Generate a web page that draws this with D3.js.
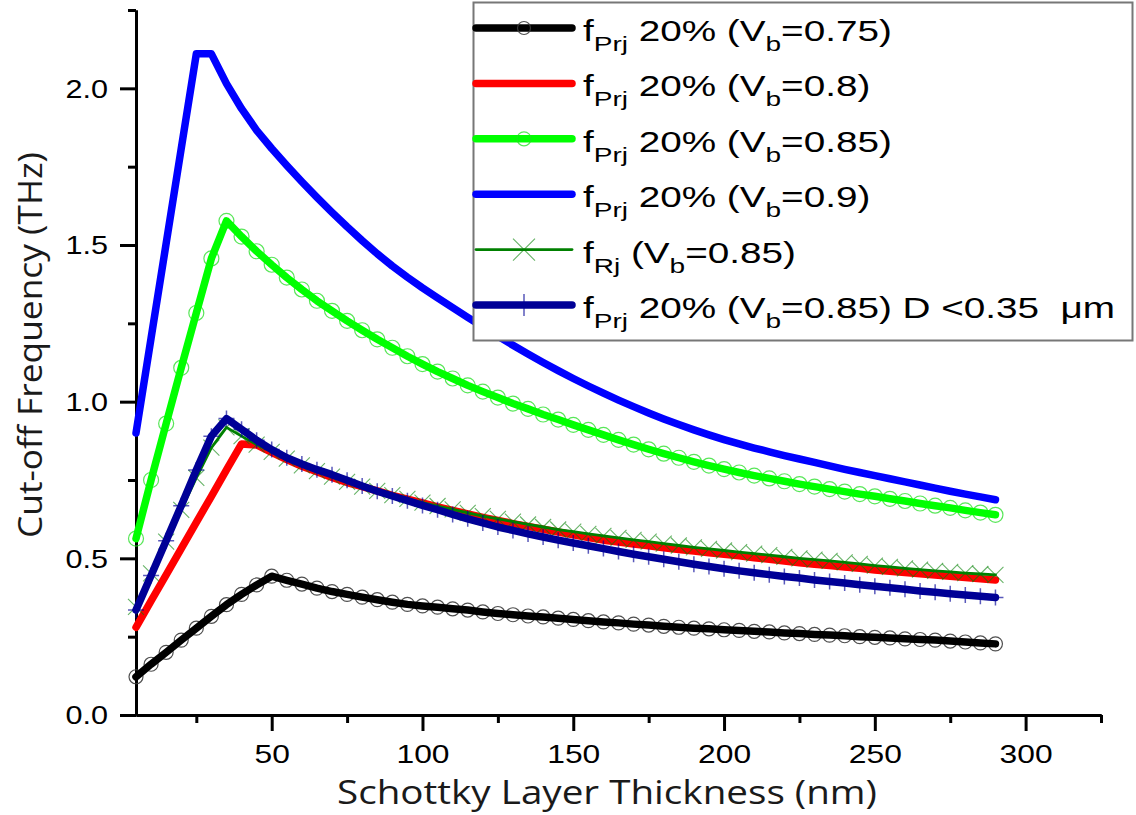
<!DOCTYPE html>
<html>
<head>
<meta charset="utf-8">
<script src="https://cdn.jsdelivr.net/npm/d3@7"></script>
<style>
  body { margin: 0; background: #fff; }
  svg { display: block; }
</style>
</head>
<body>
<div id="chart"></div>
<script>
// Schottky layer thickness (nm)
var thickness = [5, 10, 15, 20, 25, 30, 35, 40, 45, 50,
  55, 60, 65, 70, 75, 80, 85, 90, 95, 100,
  105, 110, 115, 120, 125, 130, 135, 140, 145, 150,
  155, 160, 165, 170, 175, 180, 185, 190, 195, 200,
  205, 210, 215, 220, 225, 230, 235, 240, 245, 250,
  255, 260, 265, 270, 275, 280, 285, 290];

// Cut-off frequency (THz)
var fPrj075 = [0.122, 0.162, 0.200, 0.239, 0.277, 0.315, 0.352, 0.385, 0.415, 0.443,
  0.430, 0.418, 0.405, 0.394, 0.385, 0.376, 0.368, 0.360, 0.353, 0.348,
  0.344, 0.339, 0.335, 0.329, 0.324, 0.320, 0.316, 0.313, 0.309, 0.305,
  0.301, 0.297, 0.294, 0.290, 0.287, 0.283, 0.280, 0.277, 0.275, 0.272,
  0.270, 0.267, 0.265, 0.262, 0.260, 0.257, 0.255, 0.253, 0.250, 0.248,
  0.246, 0.243, 0.241, 0.239, 0.236, 0.233, 0.230, 0.227];

var fPrj080 = [0.280, 0.364, 0.447, 0.531, 0.615, 0.698, 0.782, 0.865, 0.862, 0.838,
  0.815, 0.794, 0.776, 0.758, 0.742, 0.729, 0.715, 0.701, 0.689, 0.677,
  0.664, 0.653, 0.642, 0.631, 0.621, 0.611, 0.602, 0.593, 0.584, 0.575,
  0.566, 0.558, 0.552, 0.546, 0.540, 0.534, 0.528, 0.523, 0.518, 0.513,
  0.508, 0.502, 0.497, 0.491, 0.486, 0.481, 0.477, 0.472, 0.468, 0.463,
  0.459, 0.455, 0.451, 0.447, 0.443, 0.439, 0.435, 0.431];

var fPrj085 = [0.563, 0.750, 0.930, 1.108, 1.283, 1.457, 1.577, 1.527, 1.480, 1.437,
  1.396, 1.358, 1.322, 1.290, 1.258, 1.228, 1.199, 1.172, 1.145, 1.120,
  1.096, 1.074, 1.052, 1.032, 1.013, 0.994, 0.977, 0.959, 0.943, 0.926,
  0.910, 0.894, 0.878, 0.863, 0.848, 0.834, 0.821, 0.808, 0.796, 0.785,
  0.774, 0.764, 0.755, 0.746, 0.737, 0.729, 0.721, 0.713, 0.705, 0.698,
  0.690, 0.683, 0.675, 0.668, 0.661, 0.653, 0.646, 0.639];

var fPrj090 = [0.900, 1.203, 1.505, 1.808, 2.110, 2.110, 2.015, 1.935, 1.866, 1.808,
  1.754, 1.702, 1.652, 1.604, 1.558, 1.514, 1.472, 1.433, 1.397, 1.363,
  1.331, 1.300, 1.269, 1.239, 1.209, 1.180, 1.152, 1.125, 1.099, 1.074,
  1.050, 1.027, 1.005, 0.984, 0.964, 0.945, 0.927, 0.910, 0.894, 0.879,
  0.865, 0.852, 0.840, 0.828, 0.817, 0.806, 0.795, 0.784, 0.774, 0.764,
  0.754, 0.744, 0.734, 0.724, 0.714, 0.705, 0.696, 0.687];

var fRj085 = [0.345, 0.452, 0.553, 0.655, 0.757, 0.853, 0.918, 0.890, 0.863, 0.840,
  0.818, 0.797, 0.778, 0.761, 0.744, 0.729, 0.715, 0.702, 0.690, 0.678,
  0.667, 0.656, 0.645, 0.635, 0.626, 0.617, 0.608, 0.600, 0.592, 0.585,
  0.578, 0.572, 0.565, 0.559, 0.553, 0.547, 0.541, 0.535, 0.530, 0.525,
  0.520, 0.515, 0.510, 0.505, 0.500, 0.496, 0.492, 0.487, 0.482, 0.477,
  0.473, 0.468, 0.464, 0.460, 0.457, 0.453, 0.450, 0.447];

var fPrj085D = [0.335, 0.445, 0.556, 0.668, 0.782, 0.890, 0.946, 0.912, 0.877, 0.847,
  0.821, 0.801, 0.783, 0.767, 0.749, 0.731, 0.714, 0.699, 0.684, 0.669,
  0.655, 0.640, 0.626, 0.613, 0.600, 0.589, 0.578, 0.568, 0.558, 0.549,
  0.540, 0.531, 0.522, 0.513, 0.505, 0.497, 0.489, 0.481, 0.474, 0.467,
  0.460, 0.454, 0.448, 0.442, 0.437, 0.431, 0.426, 0.421, 0.416, 0.411,
  0.406, 0.401, 0.396, 0.392, 0.387, 0.383, 0.379, 0.375];

// Axis ticks
var xMajorTicks = [50, 100, 150, 200, 250, 300];
var xMinorTicks = [25, 75, 125, 175, 225, 275, 325];
var yMajorTicks = [0, 0.5, 1.0, 1.5, 2.0];
var yMinorTicks = [0.25, 0.75, 1.25, 1.75, 2.25];

// Legend text pieces: [text, subscript?]
var legendLabels = [
  [["f", 0], ["Prj", 1], [" 20% (V", 0], ["b", 1], ["=0.75)", 0]],
  [["f", 0], ["Prj", 1], [" 20% (V", 0], ["b", 1], ["=0.8)", 0]],
  [["f", 0], ["Prj", 1], [" 20% (V", 0], ["b", 1], ["=0.85)", 0]],
  [["f", 0], ["Prj", 1], [" 20% (V", 0], ["b", 1], ["=0.9)", 0]],
  [["f", 0], ["Rj", 1], [" (V", 0], ["b", 1], ["=0.85)", 0]],
  [["f", 0], ["Prj", 1], [" 20% (V", 0], ["b", 1], ["=0.85) D <0.35 \u00A0\u03BCm", 0]]
];

var xTitle = "Schottky Layer Thickness (nm)";
var yTitle = "Cut-off Frequency (THz)";

// Set the dimensions
var width = 1136, height = 815;
var margin = {top: 10, right: 35, bottom: 100, left: 136};

var svg = d3.select("#chart")
  .append("svg")
    .attr("width", width)
    .attr("height", height);

var x = d3.scaleLinear()
  .domain([5, 325])
  .range([margin.left, width - margin.right]);

var y = d3.scaleLinear()
  .domain([0, 2.25])
  .range([height - margin.bottom, margin.top]);

var labelFont = "'Liberation Sans', Arial, sans-serif";
var titleFont = "'Open Sans', 'DejaVu Sans', sans-serif";
var tickStretch = 1.2;

// Axes
function styleAxis(g) {
  g.selectAll(".domain").attr("stroke", "#000").attr("stroke-width", 3);
  g.selectAll(".tick line").attr("stroke", "#000").attr("stroke-width", 3);
}

svg.append("g")
  .attr("transform", `translate(0,${y(0)})`)
  .call(d3.axisBottom(x).tickValues(xMinorTicks).tickSize(8).tickSizeOuter(0).tickFormat(""))
  .call(styleAxis);

svg.append("g")
  .attr("transform", `translate(0,${y(0)})`)
  .call(d3.axisBottom(x).tickValues(xMajorTicks).tickSize(16).tickSizeOuter(0))
  .attr("font-size", 26.5)
  .attr("font-family", labelFont)
  .call(styleAxis)
  .call(g => g.selectAll(".tick text")
    .attr("fill", "#000")
    .attr("y", 48)
    .attr("dy", 0)
    .attr("transform", `scale(${tickStretch},1)`));

svg.append("g")
  .attr("transform", `translate(${x(5)},0)`)
  .call(d3.axisLeft(y).tickValues(yMinorTicks).tickSize(8).tickSizeOuter(0).tickFormat(""))
  .call(styleAxis);

svg.append("g")
  .attr("transform", `translate(${x(5)},0)`)
  .call(d3.axisLeft(y).tickValues(yMajorTicks).tickSize(16).tickSizeOuter(0).tickFormat(d3.format(".1f")))
  .attr("font-size", 25.5)
  .attr("font-family", labelFont)
  .call(styleAxis)
  .call(g => g.selectAll(".tick text")
    .attr("fill", "#000")
    .attr("x", -28 / tickStretch)
    .attr("dy", "0.35em")
    .attr("transform", `scale(${tickStretch},1)`));

// Axis titles
svg.append("text")
  .attr("x", 337)
  .attr("y", 803.5)
  .attr("font-family", titleFont)
  .attr("font-size", 32.5)
  .attr("fill", "#1a1a1a")
  .attr("textLength", 540)
  .attr("lengthAdjust", "spacingAndGlyphs")
  .text(xTitle);

svg.append("text")
  .attr("transform", "translate(42,538) rotate(-90)")
  .attr("font-family", titleFont)
  .attr("font-size", 32.5)
  .attr("fill", "#1a1a1a")
  .attr("textLength", 386)
  .attr("lengthAdjust", "spacingAndGlyphs")
  .text(yTitle);

// Series
var series = [
  {values: fPrj075, color: "#000000", width: 7.5, marker: "circle", mColor: "#3c3c3c", mOpacity: 0.9, mWidth: 1.2, size: 7},
  {values: fPrj080, color: "#ff0000", width: 7.5, marker: null},
  {values: fPrj085, color: "#00ff00", width: 7.5, marker: "circle", mColor: "#22dd22", mOpacity: 0.75, mWidth: 1.2, size: 7.5},
  {values: fPrj090, color: "#0000ff", width: 7.5, marker: null},
  {values: fRj085, color: "#008000", width: 2.8, marker: "x", mColor: "#008000", mOpacity: 0.6, mWidth: 1.1, size: 8},
  {values: fPrj085D, color: "#000096", width: 7.5, marker: "plus", mColor: "#000096", mOpacity: 0.65, mWidth: 1.5, size: 8}
];

function markerPath(type, s) {
  if (type === "x") return `M${-s},${-s}L${s},${s}M${-s},${s}L${s},${-s}`;
  if (type === "plus") return `M0,${-s}V${s}M${-s},0H${s}`;
  return null;
}

var line = d3.line()
  .x((d, i) => x(thickness[i]))
  .y(d => y(d));

series.forEach(function(s) {
  var g = svg.append("g");
  if (s.marker === "circle") {
    g.selectAll("circle")
      .data(s.values)
      .join("circle")
        .attr("cx", (d, i) => x(thickness[i]))
        .attr("cy", d => y(d))
        .attr("r", s.size)
        .attr("fill", "none")
        .attr("stroke", s.mColor)
        .attr("stroke-opacity", s.mOpacity)
        .attr("stroke-width", s.mWidth);
  } else if (s.marker) {
    g.selectAll("path.m")
      .data(s.values)
      .join("path")
        .attr("class", "m")
        .attr("transform", (d, i) => `translate(${x(thickness[i])},${y(d)})`)
        .attr("d", markerPath(s.marker, s.size))
        .attr("fill", "none")
        .attr("stroke", s.mColor)
        .attr("stroke-opacity", s.mOpacity)
        .attr("stroke-width", s.mWidth);
  }
  g.append("path")
    .datum(s.values)
    .attr("d", line)
    .attr("fill", "none")
    .attr("stroke", s.color)
    .attr("stroke-width", s.width)
    .attr("stroke-linecap", "round")
    .attr("stroke-linejoin", "round");
});

// Legend
var legend = svg.append("g");
legend.append("rect")
  .attr("x", 473.5)
  .attr("y", 2.5)
  .attr("width", 659)
  .attr("height", 338)
  .attr("fill", "#fff")
  .attr("stroke", "#777")
  .attr("stroke-width", 2);

var rowStep = 55.4, firstBase = 41;
var rows = [];
series.forEach(function(s, i) {
  var base = firstBase + i * rowStep;
  var ly = base - 13;
  var row = legend.append("g");
  if (s.marker === "circle") {
    row.append("circle")
      .attr("cx", 524).attr("cy", ly).attr("r", s.size - 0.5)
      .attr("fill", "none").attr("stroke", s.mColor)
      .attr("stroke-opacity", s.mOpacity).attr("stroke-width", s.mWidth);
  } else if (s.marker) {
    row.append("path")
      .attr("transform", `translate(524,${ly})`)
      .attr("d", markerPath(s.marker, s.size + 3))
      .attr("fill", "none").attr("stroke", s.mColor)
      .attr("stroke-opacity", s.mOpacity).attr("stroke-width", s.mWidth);
  }
  row.insert("line", ":first-child")
    .attr("x1", 476).attr("x2", 572)
    .attr("y1", ly).attr("y2", ly)
    .attr("stroke", s.color)
    .attr("stroke-width", s.width)
    .attr("stroke-linecap", "round");

  var t = row.append("text")
    .attr("font-family", labelFont)
    .attr("font-size", 29)
    .attr("fill", "#000")
    .attr("data-base", base);
  var shift = 0;
  legendLabels[i].forEach(function(p) {
    var target = p[1] ? 10 : 0;
    t.append("tspan")
      .attr("font-size", p[1] ? 21 : 29)
      .attr("dy", target - shift)
      .text(p[0]);
    shift = target;
  });
  rows.push(t);
});

// stretch legend text so the first row spans its measured width
var natural = rows[0].node().getComputedTextLength();
var legendStretch = 309 / natural;
rows.forEach(function(t) {
  t.attr("transform", `translate(583,${t.attr("data-base")}) scale(${legendStretch},1)`);
});
</script>
</body>
</html>
